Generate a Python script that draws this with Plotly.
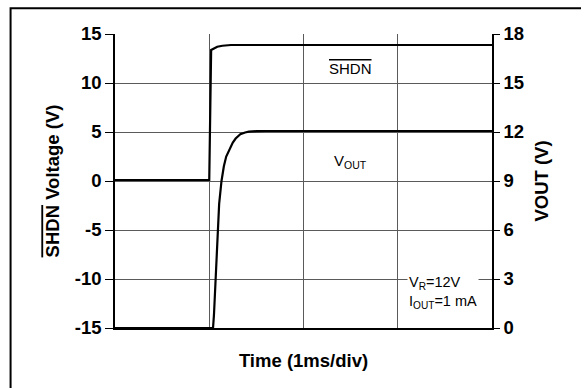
import plotly.graph_objects as go

# SHDN (left axis, V) vs time (ms)
shdn_t = [0.0, 1.0, 1.02, 1.05, 1.085, 1.14, 1.23, 1.35, 4.0]
shdn_v = [0.1, 0.1, 13.37, 13.5, 13.7, 13.8, 13.88, 13.88, 13.88]

# VOUT (right axis, V) vs time (ms)
vout_t = [0.0, 1.04, 1.05, 1.058, 1.07, 1.085, 1.105, 1.13, 1.155, 1.18, 1.22,
          1.25, 1.28, 1.33, 1.38, 1.42, 1.5, 1.6, 4.0]
vout_v = [0.0, 0.0, 0.8, 1.8, 3.8, 6.0, 7.6, 9.0, 9.9, 10.5, 11.0,
          11.35, 11.6, 11.86, 11.97, 12.02, 12.05, 12.06, 12.06]

left_ticks = [-15, -10, -5, 0, 5, 10, 15]
left_labels = ["-15", "-10", "-5", "0", "5", "10", "15"]
right_ticks = [0, 3, 6, 9, 12, 15, 18]
right_labels = ["0", "3", "6", "9", "12", "15", "18"]
x_grid = [0, 1, 2, 3, 4]

FONT = "Liberation Sans, Arial, sans-serif"
GRID = "#5a5a5a"

fig = go.Figure()
fig.add_trace(go.Scatter(x=shdn_t, y=shdn_v, mode="lines",
                         line=dict(color="black", width=2.2), yaxis="y", showlegend=False))
fig.add_trace(go.Scatter(x=vout_t, y=vout_v, mode="lines",
                         line=dict(color="black", width=2.2), yaxis="y2", showlegend=False))

fig.update_layout(
    width=581, height=388,
    margin=dict(l=115, r=89, t=34, b=60, autoexpand=False),
    paper_bgcolor="white", plot_bgcolor="white",
    font=dict(family=FONT, color="black"),
    xaxis=dict(range=[0, 4], tickvals=x_grid, showticklabels=False, ticks="",
               showgrid=True, gridcolor=GRID, gridwidth=1.2, automargin=False,
               showline=True, linecolor="black", linewidth=1.5,
               zeroline=False,
               title=dict(text="<b>Time (1ms/div)</b>", font=dict(size=18.5), standoff=25)),
    yaxis=dict(range=[-15, 15], tickvals=left_ticks,
               ticktext=["<b>%s</b>" % s for s in left_labels],
               ticks="outside", ticklen=8, tickcolor="black", automargin=False,
               tickfont=dict(size=18.5, family=FONT),
               showgrid=True, gridcolor=GRID, gridwidth=1.2, zeroline=False,
               showline=True, linecolor="black", linewidth=1.5,
               title=dict(text="<b><span style='text-decoration:overline'>SHDN</span> Voltage (V)</b>",
                          font=dict(size=18.5), standoff=10)),
    yaxis2=dict(range=[0, 18], tickvals=right_ticks,
                ticktext=["<b>%s</b>" % s for s in right_labels],
                overlaying="y", side="right", automargin=False,
                ticks="outside", ticklen=6, tickcolor="black",
                tickfont=dict(size=18.5, family=FONT),
                showgrid=False, zeroline=False,
                showline=True, linecolor="black", linewidth=1.5,
                title=dict(text="<b>VOUT (V)</b>", font=dict(size=18.5), standoff=12)),
)

fig.add_annotation(x=2.5, y=11.43, xref="x", yref="y", showarrow=False,
                   text="<span style='text-decoration:overline'>SHDN</span>",
                   font=dict(size=15))
fig.add_annotation(x=2.5, y=1.94, xref="x", yref="y", showarrow=False,
                   text="V<sub>OUT</sub>", font=dict(size=15))
fig.add_annotation(x=3.1, y=-11.4, xref="x", yref="y", showarrow=False,
                   xanchor="left", align="left", bgcolor="white", borderpad=1,
                   text="V<sub>R</sub>=12V<br>I<sub>OUT</sub>=1 mA", font=dict(size=14.5))

# outer frame
fig.add_shape(type="rect", xref="paper", yref="paper",
              x0=-0.277, x1=1.5, y0=-0.6, y1=1.088,
              line=dict(color="black", width=2), layer="below")

fig.write_html("out.html", config={"displayModeBar": False},
               post_script="document.body.style.margin='0px';")
